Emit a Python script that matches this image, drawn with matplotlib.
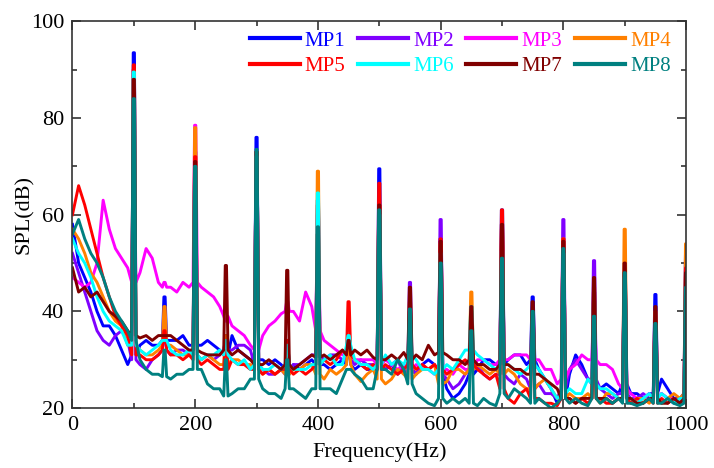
import numpy as np
import matplotlib
matplotlib.use('Agg')
import matplotlib.pyplot as plt

plt.rcParams['font.family'] = 'serif'
plt.rcParams['font.serif'] = ['Liberation Serif', 'DejaVu Serif']

# frequency grid of the broadband floor (Hz), read every 10 Hz
freq = list(range(0, 1001, 10))
# tonal lines at the 50 Hz harmonics
harm = list(range(100, 1001, 50))

names = ['MP1', 'MP2', 'MP3', 'MP4', 'MP5', 'MP6', 'MP7', 'MP8']
colors = ['#0000ff', '#8000ff', '#ff00ff', '#ff8000',
          '#ff0000', '#00ffff', '#800000', '#008080']

# --- broadband floor, dB (101 values each) ---
mp1_base = [58, 50, 47, 44, 40, 37, 37, 35, 32, 29,
            31, 33, 34, 33, 33, 34, 34, 34, 35, 33,
            33, 33, 34, 33, 32, 31, 35, 32, 31, 30,
            30, 30, 29, 30, 29, 28, 29, 28, 29, 30,
            29, 29, 28, 29, 30, 29, 28, 29, 28, 28,
            28, 28, 29, 27, 29, 28, 27, 29, 30, 29,
            27, 24, 22, 23, 25, 27, 28, 30, 30, 29,
            29, 30, 31, 31, 29, 30, 28, 26, 24, 21,
            22, 27, 31, 29, 26, 25, 24, 25, 24, 23,
            25, 23, 23, 22, 23, 23, 26, 24, 22, 22,
            23]
mp2_base = [52, 48, 44, 40, 36, 34, 33, 35, 36, 34,
            30, 29, 28, 30, 31, 32, 31, 32, 32, 31,
            31, 30, 31, 30, 31, 32, 32, 33, 33, 32,
            29, 28, 27, 27, 28, 27, 29, 29, 30, 31,
            31, 30, 31, 31, 30, 30, 29, 30, 29, 29,
            29, 28, 29, 30, 27, 28, 27, 29, 28, 29,
            27, 26, 24, 25, 27, 28, 29, 27, 26, 27,
            27, 26, 25, 27, 26, 24, 25, 23, 23, 22,
            24, 28, 30, 28, 26, 26, 24, 23, 22, 23,
            23, 22, 22, 23, 22, 22, 23, 22, 21, 22,
            22]
mp3_base = [47, 46, 45, 46, 50, 63, 57, 53, 51, 49,
            46, 48, 53, 51, 46, 45, 45, 44, 46, 45,
            46, 45, 44, 43, 41, 39, 37, 36, 35, 33,
            32, 35, 37, 38, 39.5, 40, 40, 38, 44, 41,
            36, 34, 33, 32, 31, 31, 30, 30, 30, 30,
            29, 30, 29, 28, 29, 28, 29, 28, 28, 27,
            28, 28, 27, 29, 28, 28, 30, 30, 29, 29,
            30, 30, 31, 31, 31, 30, 30, 28, 28, 25,
            26, 28, 29, 31, 30, 30, 29, 29, 28, 25,
            24, 23, 22, 22, 23, 22, 23, 22, 22, 21,
            22]
mp4_base = [57, 55, 52, 48, 46, 43, 40, 38, 37, 33,
            33, 32, 31, 31, 32, 33, 33, 32, 31, 31,
            31, 30, 31, 30, 29, 29, 30, 30, 29, 29,
            28, 27, 28, 27, 28, 27, 28, 28, 29, 29,
            27, 26, 28, 27, 28, 29, 27, 25.5, 27, 28,
            26, 25, 26, 28, 27, 26, 27, 28, 28, 29,
            25, 25.5, 28, 28, 27, 28, 29, 28, 27, 28,
            27, 28, 27, 25, 24, 24, 25, 26, 24, 22,
            22, 23, 22, 22, 23, 22, 21, 23, 23, 22,
            22, 21, 22, 22, 21, 22, 21, 22, 23, 22,
            23]
mp5_base = [60, 66, 62, 57, 52, 47, 43, 39, 37, 35,
            31, 31, 30, 30, 31, 32, 31, 31, 30, 31,
            30, 29, 30, 29, 28, 28, 30, 29, 29, 28,
            28, 27, 28, 27, 28, 28, 27, 28, 27, 28,
            29, 30, 29, 30, 32, 31, 30, 29, 28, 29,
            28, 29, 28, 27, 28, 29, 28, 29, 28, 29,
            28, 27, 28, 29, 30, 29, 28, 27, 26, 27,
            24, 22, 21, 23, 24, 22, 22, 21, 21, 20.5,
            22, 22, 21, 22, 21, 22, 22, 21, 21, 22,
            22, 21, 22, 21, 22, 21, 22, 21, 22, 21,
            22]
mp6_base = [55, 52, 50, 47, 43, 40, 38, 37, 36, 33,
            33, 32, 31, 32, 33, 34, 32, 31, 31, 32,
            31, 30, 31, 31, 32, 31, 30, 29, 30, 28,
            29, 28, 28, 29, 28, 29, 28, 28, 28, 29,
            29, 30, 31, 29, 29, 33, 30, 29, 29, 28,
            29, 31, 29, 30, 29, 31, 30, 28, 28, 27,
            28, 29, 28, 30, 32, 32, 31, 30, 29, 28,
            29, 29, 28, 27, 28, 29, 28, 26, 24, 22,
            23, 24, 23, 23, 26, 25, 24, 24, 23, 22,
            22, 22, 21, 22, 23, 22, 23, 22, 21, 22,
            22]
mp7_base = [49, 44, 45, 43, 44, 42, 40, 39, 38, 36,
            35, 34.5, 35, 34, 35, 35, 35, 34, 33, 32,
            32, 31.5, 31, 31, 31, 32, 31, 32, 31, 30,
            29, 29, 30, 29, 28, 29, 28, 29, 30, 31,
            30.5, 31, 30, 31, 32, 31, 32, 31, 32, 30.5,
            30, 30, 31, 30, 31.5, 30, 31, 30, 33, 31,
            31.5, 31, 30, 30, 29, 30, 29, 29, 28, 28,
            29, 29, 28, 28, 27, 27, 27, 26, 25, 24,
            22, 22, 21, 22, 22, 22, 22, 22, 21, 22,
            22, 22, 21, 21, 22, 22, 21, 21, 22, 21,
            22]
mp8_base = [56, 59, 55, 52, 50, 47, 43, 40, 38, 36,
            34, 30, 28, 27, 27, 26.5, 26, 27, 27, 28,
            28, 28, 25, 24, 24, 22.5, 23, 24, 24, 26,
            26, 24, 23, 23, 22, 24, 24, 23, 22, 24,
            24, 24, 24, 23, 26, 28, 27, 26, 24, 24,
            28, 28, 27, 30, 28, 25, 23, 22, 21, 20.5,
            22, 21, 22, 21, 22, 21, 20.5, 22, 21, 20.5,
            23, 22, 24, 23, 22, 21, 22, 21, 20, 21,
            22, 21, 22, 21, 20.5, 22, 21, 22, 21, 22,
            21, 21, 20.5, 21, 22, 21, 21, 22, 21, 20.5,
            21]

# --- peak level at each harmonic 100..1000 Hz, dB ---
mp1_peak = [93.5, 43, 73, 35, 76, 34, 63, 33, 69.5, 38, 55, 38, 61, 43, 53, 44, 50, 43.5, 52]
mp2_peak = [90, 35, 70, 34, 73, 33, 60, 33, 60, 46, 59, 40, 58, 38, 59, 50.5, 47, 40, 51]
mp3_peak = [70, 46, 78.5, 38, 70, 42, 58, 33, 55, 34, 48, 35, 52, 36, 52, 40, 45, 35, 45]
mp4_peak = [90, 41, 78, 35, 73, 34, 69, 33, 62, 42, 54, 44, 57, 40, 55, 45, 57, 40, 54]
mp5_peak = [91, 36, 72, 34, 73, 34, 62, 42, 66.5, 40, 55, 38, 61, 40, 55, 42, 48, 38, 49]
mp6_peak = [89.5, 34, 70, 34, 72, 33, 64.5, 35, 60, 38, 52, 41, 52.5, 38, 52, 42, 47, 37, 47]
mp7_peak = [88, 35, 71, 49.5, 73, 48.5, 56, 34, 62, 45, 54.5, 41, 58, 42, 54.5, 47, 50, 41, 48]
mp8_peak = [84, 32, 70, 30, 73.5, 30, 57.5, 28, 61, 40.5, 50, 36, 51, 40, 53, 39, 48, 37.5, 45]

bases = [mp1_base, mp2_base, mp3_base, mp4_base, mp5_base, mp6_base, mp7_base, mp8_base]
peaks = [mp1_peak, mp2_peak, mp3_peak, mp4_peak, mp5_peak, mp6_peak, mp7_peak, mp8_peak]


def build(base, peak):
    # floor points, with a narrow flat-topped spike at every harmonic
    fs, vs = [], []
    for f, b in zip(freq, base):
        if f in harm:
            p = peak[harm.index(f)]
            fs += [f - 3.5, f - 1, f + 1, f + 3.5]
            vs += [b, p, p, b]
        else:
            fs.append(f)
            vs.append(b)
    return fs, vs


fig = plt.figure(figsize=(7.14, 4.68), dpi=100)
ax = fig.add_axes([0.1015, 0.128, 0.8594, 0.8265])

lines = []
for name, c, b, p in zip(names, colors, bases, peaks):
    fs, vs = build(b, p)
    ln, = ax.plot(fs, vs, color=c, lw=2.1, label=name)
    lines.append(ln)

ax.set_xlim(0, 1000)
ax.set_ylim(20, 100)
ax.set_xticks(range(0, 1001, 200))
ax.set_xticks(range(100, 1000, 200), minor=True)
ax.set_yticks(range(20, 101, 20))
ax.set_yticks(range(30, 100, 20), minor=True)
ax.tick_params(which='both', direction='in', top=True, right=True,
               labelsize=16, color='#333333', width=1.2)
ax.tick_params(which='major', length=6.5, pad=6)
ax.tick_params(which='minor', length=3.5)
for s in ax.spines.values():
    s.set_color('#333333')
    s.set_linewidth(1.2)

ax.set_xlabel('Frequency(Hz)', fontsize=16, labelpad=5)
ax.set_ylabel('SPL(dB)', fontsize=16, labelpad=-2)

# legend is filled column-wise, so reorder to get MP1-4 on the first row
order = [0, 4, 1, 5, 2, 6, 3, 7]
leg = ax.legend([lines[i] for i in order], [names[i] for i in order],
                ncol=4, loc='upper right', bbox_to_anchor=(0.975, 0.975),
                frameon=False, fontsize=15, handlelength=2.4,
                handletextpad=0.25, columnspacing=0.6, labelspacing=0.3,
                borderpad=0, borderaxespad=0)
for t, i in zip(leg.get_texts(), order):
    t.set_color(colors[i])
for h in leg.legend_handles:
    h.set_linewidth(3)

fig.savefig('out.png', dpi=100)
